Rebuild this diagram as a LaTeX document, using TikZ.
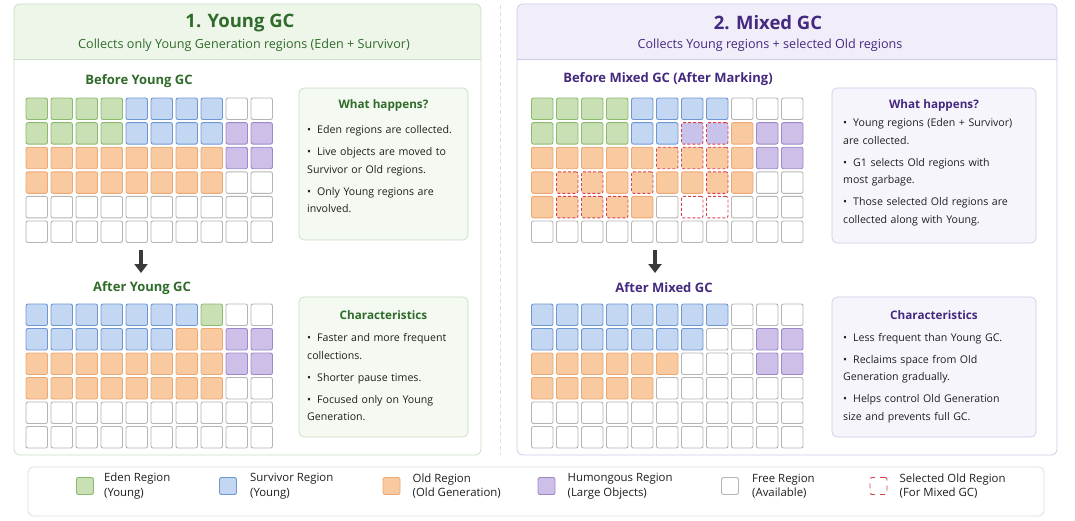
\documentclass[tikz,border=0pt]{standalone}
\usepackage{fontspec}
\setmainfont{Open Sans}
\usetikzlibrary{arrows.meta,positioning}

\definecolor{edenfill}{HTML}{C8E0B4}
\definecolor{edenline}{HTML}{8DBB6E}
\definecolor{survfill}{HTML}{C3D7F3}
\definecolor{survline}{HTML}{6E97D2}
\definecolor{oldfill}{HTML}{F9C9A0}
\definecolor{oldline}{HTML}{EBA872}
\definecolor{humfill}{HTML}{CDBFE7}
\definecolor{humline}{HTML}{9D88C9}
\definecolor{freeline}{HTML}{B5B5B5}
\definecolor{selline}{HTML}{D8404C}
\definecolor{markfill}{HTML}{C9C3EC}
\definecolor{ygreen}{HTML}{2F6B2A}
\definecolor{mpurple}{HTML}{44297F}
\definecolor{ypanel}{HTML}{C9DEC3}
\definecolor{yhead}{HTML}{EEF6EA}
\definecolor{ybox}{HTML}{F4F9F1}
\definecolor{mpanel}{HTML}{D2C9E8}
\definecolor{mhead}{HTML}{F1EEFA}
\definecolor{mbox}{HTML}{F7F5FC}
\definecolor{legline}{HTML}{DDDDDD}
\definecolor{arrgrey}{HTML}{3A3A3A}
\definecolor{txt}{HTML}{1E1E1E}

\newcommand{\bitem}[1]{\hangindent=10pt\hangafter=1\makebox[10pt][l]{\textbullet}#1\par}

\begin{document}
\begin{tikzpicture}[x=1pt, y=-1pt,
    cell/.style={draw, line width=0.9pt, rounded corners=2pt, minimum size=21.5pt, inner sep=0pt},
    cellG/.style={fill=edenfill, draw=edenline},
    cellB/.style={fill=survfill, draw=survline},
    cellO/.style={fill=oldfill, draw=oldline},
    cellP/.style={fill=humfill, draw=humline},
    cellF/.style={fill=white, draw=freeline},
    cellS/.style={fill=oldfill, draw=selline, dash pattern=on 3pt off 2pt},
    cellT/.style={fill=markfill, draw=selline, dash pattern=on 3pt off 2pt},
    cellE/.style={fill=white, draw=selline, dash pattern=on 3pt off 2pt},
    gctitle/.style={font=\fontsize{18.5}{21}\selectfont\bfseries},
    gcsub/.style={font=\fontsize{12.6}{15}\selectfont},
    gridhead/.style={font=\fontsize{13}{15}\selectfont\bfseries},
    boxhead/.style={font=\fontsize{11.7}{14}\selectfont\bfseries},
    boxbody/.style={anchor=base west, inner sep=0pt, text width=200pt, align=left, text=txt, font=\fontsize{10.6}{17.5}\selectfont},
    infobox/.style={draw, line width=0.7pt, rounded corners=5pt},
    legtext/.style={anchor=west, inner sep=0pt, align=left, text=txt, font=\fontsize{11.4}{14.5}\selectfont},
    swatch/.style={cell, minimum size=17pt},
    downarr/.style={draw=arrgrey, line width=4pt, -{Triangle[length=9pt, width=13pt]}},
  ]
  \useasboundingbox (0,0) rectangle (1075,520);

  % panels
  \begin{scope}
    \clip[rounded corners=6pt] (14,4) rectangle (481,455);
    \fill[white] (14,4) rectangle (481,455);
    \fill[yhead] (14,4) rectangle (481,59);
  \end{scope}
  \draw[ypanel, line width=0.8pt] (14,59) -- (481,59);
  \draw[ypanel, line width=0.8pt, rounded corners=6pt] (14,4) rectangle (481,455);
  \begin{scope}
    \clip[rounded corners=6pt] (517,4) rectangle (1057,455);
    \fill[white] (517,4) rectangle (1057,455);
    \fill[mhead] (517,4) rectangle (1057,59);
  \end{scope}
  \draw[mpanel, line width=0.8pt] (517,59) -- (1057,59);
  \draw[mpanel, line width=0.8pt, rounded corners=6pt] (517,4) rectangle (1057,455);
  \draw[legline, line width=0.8pt, dash pattern=on 4pt off 3pt] (500,5) -- (500,455);

  % headers
  \node[gctitle, text=ygreen] (ytitle) at (240,23) {1. Young GC};
  \node[gcsub, text=ygreen] (ysub) at (244,45) {Collects only Young Generation regions (Eden + Survivor)};
  \node[gctitle, text=mpurple] (mtitle) at (768,23) {2. Mixed GC};
  \node[gcsub, text=mpurple] (msub) at (770,45) {Collects Young regions + selected Old regions};

  % young gc grids
  \node[gridhead, text=ygreen] (ybefore) at (139,81) {Before Young GC};
  \foreach \row [count=\r] in {{G,G,G,G,B,B,B,B,F,F},{G,G,G,G,B,B,B,B,P,P},{O,O,O,O,O,O,O,O,P,P},{O,O,O,O,O,O,O,O,F,F},{F,F,F,F,F,F,F,F,F,F},{F,F,F,F,F,F,F,F,F,F}}
    \foreach \c [count=\i] in \row
      \node[cell, cell\c] (yb-\r-\i) at ({36.75+25*(\i-1)}, {108.75+24.6*(\r-1)}) {};
  \coordinate (yarrtop) at (141,250);
  \coordinate (yarrend) at (141,273);
  \draw[downarr] (yarrtop) -- (yarrend);
  \node[gridhead, text=ygreen] (yafter) at (142,288) {After Young GC};
  \foreach \row [count=\r] in {{B,B,B,B,B,B,B,G,F,F},{B,B,B,B,B,B,O,O,P,P},{O,O,O,O,O,O,O,O,P,P},{O,O,O,O,O,O,O,O,F,F},{F,F,F,F,F,F,F,F,F,F},{F,F,F,F,F,F,F,F,F,F}}
    \foreach \c [count=\i] in \row
      \node[cell, cell\c] (ya-\r-\i) at ({36.75+25*(\i-1)}, {314.75+24.5*(\r-1)}) {};

  % young gc boxes
  \draw[infobox, draw=ypanel, fill=ybox] (299,88) rectangle (468,240);
  \node[boxhead, text=ygreen] (ywhat) at (383.5,105) {What happens?};
  \node[boxbody] (ywhatlist) at (307,133.5) {\setlength{\parskip}{4.5pt}%
    \bitem{Eden regions are collected.}%
    \bitem{Live objects are moved to\\Survivor or Old regions.}%
    \bitem{Only Young regions are\\involved.}};
  \draw[infobox, draw=ypanel, fill=ybox] (299,297) rectangle (468,437);
  \node[boxhead, text=ygreen] (ychar) at (383.5,315) {Characteristics};
  \node[boxbody] (ycharlist) at (307,341.5) {\setlength{\parskip}{4.5pt}%
    \bitem{Faster and more frequent\\collections.}%
    \bitem{Shorter pause times.}%
    \bitem{Focused only on Young\\Generation.}};

  % mixed gc grids
  \node[gridhead, text=mpurple] (mbefore) at (668,79) {Before Mixed GC (After Marking)};
  \foreach \row [count=\r] in {{G,G,G,G,B,B,B,B,F,F,F},{G,G,G,G,B,B,T,T,O,P,P},{O,O,O,O,O,S,S,S,O,P,P},{O,S,S,O,S,O,O,S,O,F,F},{O,S,S,S,O,F,E,E,F,F,F},{F,F,F,F,F,F,F,F,F,F,F}}
    \foreach \c [count=\i] in \row
      \node[cell, cell\c] (mb-\r-\i) at ({542.25+25*(\i-1)}, {108.75+24.6*(\r-1)}) {};
  \coordinate (marrtop) at (655,250);
  \coordinate (marrend) at (655,273);
  \draw[downarr] (marrtop) -- (marrend);
  \node[gridhead, text=mpurple] (mafter) at (664,288) {After Mixed GC};
  \foreach \row [count=\r] in {{B,B,B,B,B,B,B,B,F,F,F},{B,B,B,B,B,B,B,F,F,P,P},{O,O,O,O,O,O,F,F,F,P,P},{O,O,O,O,O,F,F,F,F,F,F},{F,F,F,F,F,F,F,F,F,F,F},{F,F,F,F,F,F,F,F,F,F,F}}
    \foreach \c [count=\i] in \row
      \node[cell, cell\c] (ma-\r-\i) at ({542.25+25*(\i-1)}, {314.75+24.5*(\r-1)}) {};

  % mixed gc boxes
  \draw[infobox, draw=mpanel, fill=mbox] (832,88) rectangle (1036,243);
  \node[boxhead, text=mpurple] (mwhat) at (934,105) {What happens?};
  \node[boxbody] (mwhatlist) at (843,126.5) {\setlength{\parskip}{4.5pt}%
    \bitem{Young regions (Eden + Survivor)\\are collected.}%
    \bitem{G1 selects Old regions with\\most garbage.}%
    \bitem{Those selected Old regions are\\collected along with Young.}};
  \draw[infobox, draw=mpanel, fill=mbox] (832,297) rectangle (1036,437);
  \node[boxhead, text=mpurple] (mchar) at (934,315) {Characteristics};
  \node[boxbody] (mcharlist) at (843,341) {\setlength{\parskip}{4.5pt}%
    \bitem{Less frequent than Young GC.}%
    \bitem{Reclaims space from Old\\Generation gradually.}%
    \bitem{Helps control Old Generation\\size and prevents full GC.}};

  % legend
  \draw[legline, line width=0.8pt, rounded corners=5pt] (28,467) rectangle (1044,516);
  \node[swatch, cellG] (lg-eden) at (85,486) {};
  \node[legtext, right=10pt of lg-eden] (lt-eden) {Eden Region\\(Young)};
  \node[swatch, cellB] (lg-surv) at (228,486) {};
  \node[legtext, right=13pt of lg-surv] (lt-surv) {Survivor Region\\(Young)};
  \node[swatch, cellO] (lg-old) at (391.5,486) {};
  \node[legtext, right=12pt of lg-old] (lt-old) {Old Region\\(Old Generation)};
  \node[swatch, cellP] (lg-hum) at (546.5,486) {};
  \node[legtext, right=12pt of lg-hum] (lt-hum) {Humongous Region\\(Large Objects)};
  \node[swatch, cellF] (lg-free) at (730,486) {};
  \node[legtext, right=13pt of lg-free] (lt-free) {Free Region\\(Available)};
  \node[swatch, cellE, dash pattern=on 5pt off 5pt] (lg-sel) at (878.5,486) {};
  \node[legtext, right=12pt of lg-sel] (lt-sel) {Selected Old Region\\(For Mixed GC)};
\end{tikzpicture}
\end{document}
